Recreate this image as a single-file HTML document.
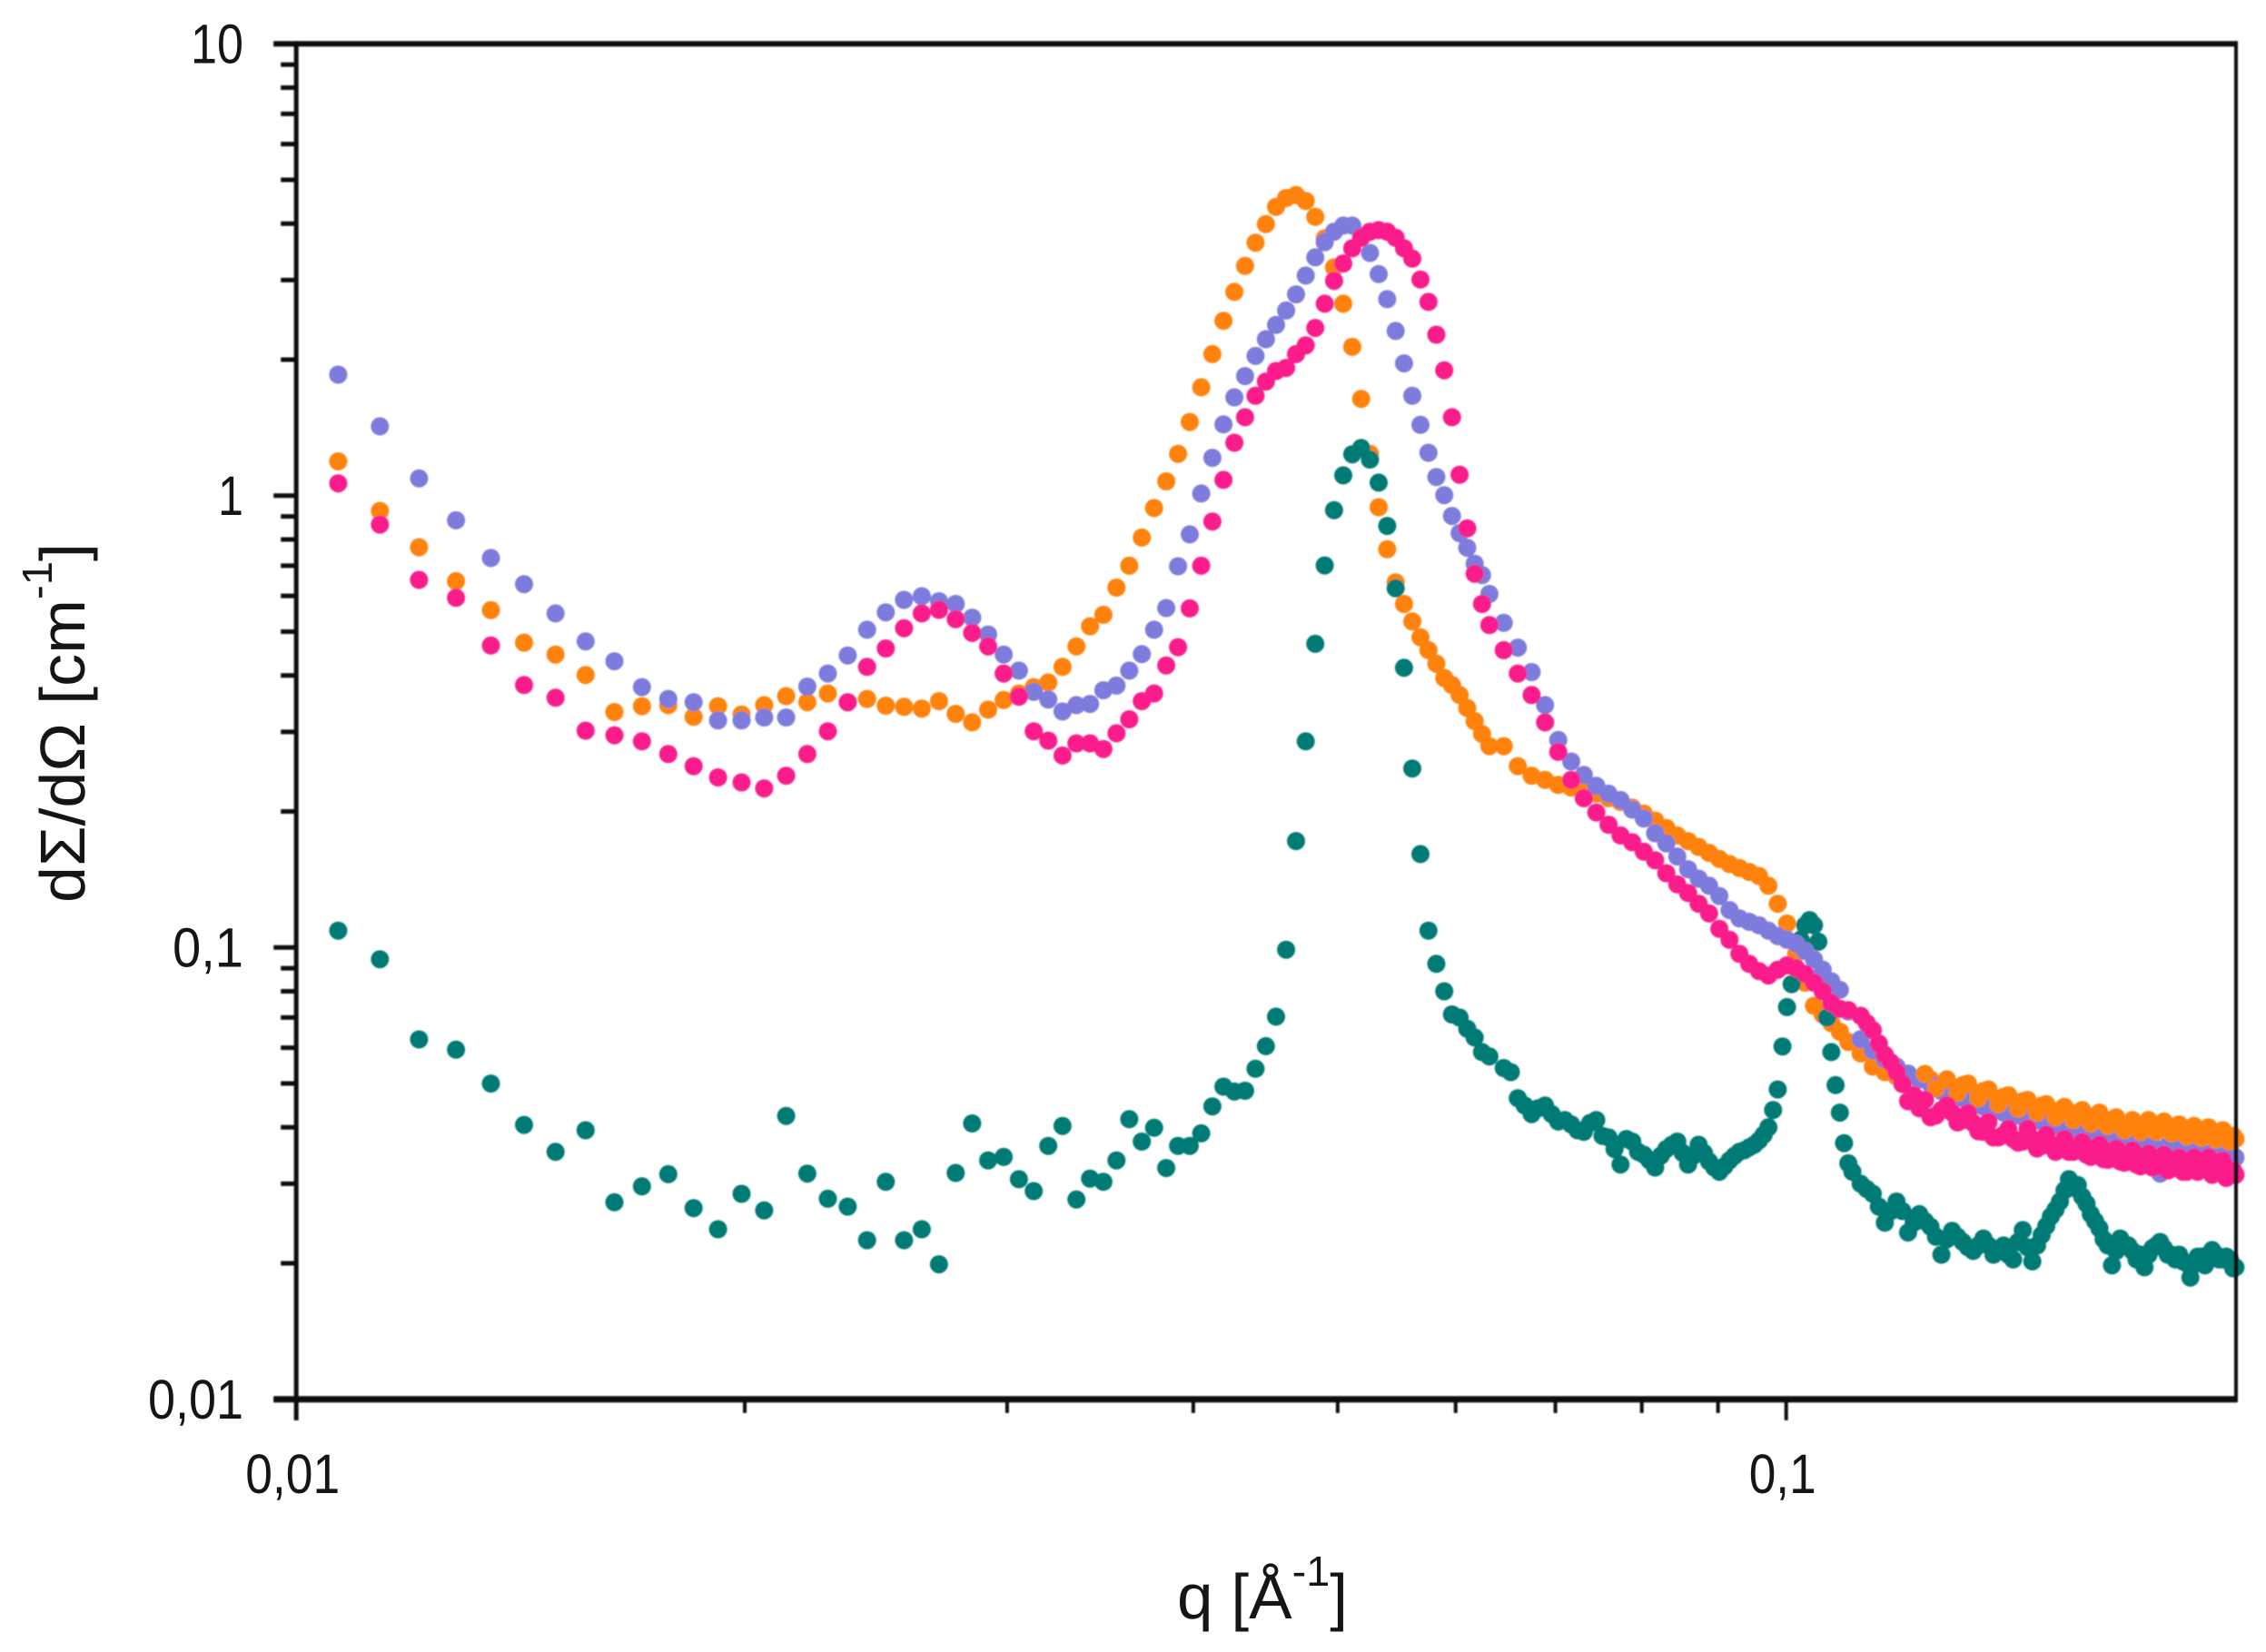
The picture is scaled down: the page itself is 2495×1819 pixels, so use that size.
<!DOCTYPE html>
<html lang="en">
<head>
<meta charset="utf-8">
<title>Scattering curves</title>
<style>
html,body{margin:0;padding:0;background:#fff;width:2495px;height:1819px;overflow:hidden}
svg{display:block}
text{font-family:"Liberation Sans",sans-serif;fill:#151515}
</style>
</head>
<body>
<svg id="chart" xmlns="http://www.w3.org/2000/svg" width="2495" height="1819" viewBox="0 0 2495 1819">
  <defs><filter id="soft" x="-2%" y="-2%" width="104%" height="104%"><feGaussianBlur stdDeviation="0.8"/></filter></defs>
  <rect width="2495" height="1819" fill="#fff"/>
  <g id="marks" filter="url(#soft)"></g>
  <g id="axes" filter="url(#soft)"></g>
  <g id="labels"></g>
  <text x="1296" y="1782" font-size="70" textLength="188" lengthAdjust="spacingAndGlyphs">q [Å<tspan dy="-36" font-size="46">-1</tspan><tspan dy="36">]</tspan></text>
  <text transform="translate(93,994) rotate(-90)" x="0" y="0" font-size="70" textLength="396" lengthAdjust="spacingAndGlyphs">dΣ/dΩ [cm<tspan dy="-36" font-size="46">-1</tspan><tspan dy="36">]</tspan></text>
</svg>
<script>
const qValues = [
0.01067,0.01138,0.01209,0.0128,0.01351,0.01422,0.01493,0.01564,0.01635,0.01706,0.01777,0.01848,0.01919,0.0199,0.02061,0.02132,0.02203,0.02274,0.02345,0.02416,0.02487,0.02558,
0.02629,0.027,0.02771,0.02842,0.02913,0.02984,0.03055,0.03126,0.03197,0.03268,0.03339,0.0341,0.03481,0.03552,0.03623,0.03694,0.03765,0.03836,0.03907,0.03978,0.04049,0.0412,0.04191,0.04262,0.04333,0.04404,0.04475,0.04546,0.04617,0.04688,0.04759,0.0483,0.04901,0.04972,0.05043,0.05114,0.05185,0.05256,0.05327,0.05398,0.05469,0.0554,0.05611,0.05682,0.05753,
0.05824,0.05895,0.05966,0.06037,0.06108,0.06179,0.0625,0.06321,
0.06463,0.06605,0.06747,0.06889,0.07031,0.07173,0.07315,0.07457,0.07599,0.07741,0.07883,0.08025,0.08167,0.08309,0.08451,0.08593,0.08735,0.08877,0.09019,0.09161,0.09303,0.09445,0.09587,0.09729,
0.098,0.09871,0.09942,0.10013,0.10084,0.10155,0.10226,0.10297,0.10368,0.10439,0.1051,0.10581,0.10652,0.10723,0.10794,0.10865,0.10936,0.11007,0.11078,
0.1122,0.11433,0.11646,0.11859,0.12072,0.12285,0.12498,0.12711,0.12924,0.13137,0.1335,0.13563,0.13776,0.13989,0.14202,0.14415,0.14628,0.14841,0.15054,0.15267,0.1548,0.15693,0.15906,0.16119,0.16332,0.16545,0.16758,0.16971,0.17184,0.17397,0.1761,0.17823,0.18036,0.18249,0.18462,0.18675,0.18888,0.19101,0.19314,0.19527,0.1974,0.19953,0.20024
];
const orangeValues = [
1.191,0.925,0.769,0.647,0.558,0.473,0.445,0.401,0.332,0.342,0.344,0.324,0.342,0.328,0.344,0.36,0.349,0.365,0.349,0.355,0.343,0.341,
0.338,0.351,0.329,0.315,0.336,0.353,0.365,0.377,0.386,0.418,0.464,0.514,0.545,0.626,0.7,0.808,0.939,1.076,1.238,1.456,1.738,2.058,2.438,2.825,3.225,3.63,3.99,4.36,4.56,4.63,4.49,4.14,3.71,3.2,2.66,2.135,1.638,1.238,0.943,0.761,0.643,0.576,0.527,0.486,0.455,
0.425,0.395,0.381,0.362,0.339,0.317,0.297,0.279,
0.279,0.252,0.24,0.235,0.229,0.226,0.224,0.219,0.214,0.21,0.204,0.198,0.191,0.184,0.177,0.172,0.167,0.162,0.157,0.153,0.15,0.147,0.144,0.137,
null,0.125,null,0.113,null,0.0968,null,0.0836,null,0.0743,null,0.0711,null,0.068,null,0.0651,null,0.0618,null,
0.0583,0.0545,0.053,0.0518,0.0514,0.0514,0.051,0.0499,0.0492,0.0496,0.0478,0.0481,0.0464,0.0467,0.0454,0.0457,0.0444,0.0447,0.0434,0.0437,0.0428,0.0431,0.0421,0.0424,0.0412,0.0415,0.0403,0.0406,0.04,0.0406,0.04,0.0406,0.0397,0.04,0.0391,0.0397,0.0388,0.0394,0.0385,0.0388,0.038,0.0383,0.0377
];
const tealValues = [
0.109,0.0942,0.0626,0.0594,0.05,0.0405,0.0353,0.0394,0.0273,0.0296,0.0315,0.0265,0.0238,0.0285,0.0262,0.0424,0.0316,0.0278,0.0267,0.0225,0.0303,0.0225,
0.0238,0.0199,0.0317,0.0408,0.0338,0.0344,0.0307,0.0289,0.0364,0.0403,0.0277,0.0308,0.0303,0.0338,0.0417,0.0372,0.0399,0.0325,0.0364,0.0364,0.0388,0.0445,0.0492,0.048,0.0482,0.0539,0.0605,0.0703,0.0989,0.172,0.286,0.47,0.701,0.929,1.109,1.235,1.275,1.202,1.069,0.857,0.624,0.416,0.249,0.161,0.109,
0.092,0.08,0.0711,0.07,0.0661,0.0632,0.0587,0.0574,
0.0541,0.0464,0.0428,0.0447,0.0412,0.0406,0.0391,0.0415,0.038,0.0331,0.0372,0.0348,0.0326,0.0358,0.0372,0.0331,0.0366,0.0336,0.0319,0.0338,0.0353,0.0361,0.0374,0.04,
0.0437,0.0485,0.0604,0.0738,0.083,null,0.104,0.112,0.115,0.112,0.103,0.0836,0.07,0.0587,0.0496,0.0431,0.0369,0.0333,0.0319,
0.03,0.0285,0.0246,0.0274,0.0234,0.0257,0.0241,0.0209,0.0236,0.0223,0.0213,0.0227,0.0209,0.0219,0.0204,0.0237,0.0202,0.0231,0.0254,0.0274,0.0307,0.0298,0.0271,0.0248,0.0226,0.0198,0.0227,0.0219,0.0204,0.0196,0.0216,0.0223,0.0209,0.0204,0.0202,0.0186,0.0207,0.0198,0.0214,0.0204,0.0207,0.0195,0.0196
];
const purpleValues = [
1.853,1.424,1.092,0.882,0.728,0.637,0.549,0.476,0.43,0.377,0.355,0.349,0.318,0.318,0.323,0.323,0.378,0.404,0.443,0.505,0.552,0.588,
0.599,0.584,0.576,0.537,0.493,0.445,0.41,0.368,0.354,0.333,0.344,0.346,0.371,0.38,0.41,0.446,0.505,0.564,0.698,0.821,1.011,1.213,1.438,1.651,1.84,2.039,2.22,2.388,2.57,2.79,3.07,3.368,3.639,3.84,3.96,3.96,3.765,3.446,3.094,2.723,2.315,1.963,1.664,1.435,1.245,
1.1,1.003,0.902,0.826,0.767,0.707,0.667,0.606,
0.523,0.461,0.407,0.344,0.288,0.258,0.241,0.228,0.219,0.212,0.202,0.193,0.179,0.17,0.159,0.149,0.142,0.137,0.13,0.121,0.116,0.114,0.112,0.109,
null,0.106,null,0.104,null,0.102,null,0.0983,null,0.0941,null,0.0893,null,0.0842,null,0.0806,null,0.0722,null,
0.0627,0.0592,0.0566,0.0545,0.0526,0.051,0.0499,0.0481,0.0474,0.0464,0.0454,0.0444,0.0437,0.0431,0.0424,0.0421,0.0415,0.0412,0.0406,0.04,0.0397,0.0394,0.0391,0.0385,0.0383,0.038,0.0388,0.0374,0.0372,0.0366,0.0364,0.0316,0.0364,0.0364,0.0356,0.0358,0.0353,0.0351,0.0348,0.0348,0.0346,0.0346,0.0343
];
const pinkValues = [
1.065,0.863,0.651,0.594,0.466,0.381,0.357,0.302,0.295,0.286,0.268,0.252,0.238,0.232,0.225,0.24,0.268,0.301,0.349,0.418,0.459,0.509,
0.549,0.559,0.533,0.497,0.464,0.404,0.359,0.301,0.287,0.266,0.283,0.283,0.275,0.298,0.32,0.351,0.365,0.421,0.462,0.563,0.7,0.877,1.084,1.31,1.492,1.664,1.789,1.888,1.918,2.058,2.152,2.351,2.66,2.99,3.266,3.528,3.723,3.84,3.87,3.84,3.723,3.528,3.346,3.009,2.685,
2.272,1.895,1.492,1.113,0.847,0.672,0.576,0.517,
0.455,0.404,0.362,0.315,0.271,0.235,0.214,0.199,0.187,0.177,0.171,0.163,0.156,0.146,0.138,0.132,0.125,0.119,0.11,0.104,0.0968,0.092,0.0887,0.0867,
null,0.0893,null,0.0913,null,0.09,null,0.0874,null,0.0836,null,0.08,null,0.0754,null,0.0732,null,0.0727,null,
0.0706,0.0656,0.0579,0.053,0.0457,0.0441,0.0421,0.0437,0.0431,0.0415,0.0409,0.0391,0.038,0.0385,0.0377,0.0372,0.0377,0.0364,0.0366,0.0358,0.0353,0.0358,0.0348,0.0351,0.034,0.0346,0.0336,0.034,0.0331,0.0336,0.0326,0.0336,0.0321,0.0331,0.0319,0.0328,0.0319,0.0326,0.0314,0.0321,0.0309,0.0321,0.0314
];
/* Extra readings inside the dense noisy bands */
const tealBandQ = [0.06534,0.06676,0.06818,0.0696,0.07102,0.07244,0.07386,0.07528,0.0767,0.07812,0.07954,0.08096,0.08238,0.0838,0.08522,0.08664,0.08806,0.08948,0.0909,0.09232,0.09374,0.09516,0.09658];
const tealBandValues = [0.053,0.0447,0.0441,0.0428,0.0415,0.0394,0.0409,0.0383,0.0358,0.0377,0.0353,0.0338,0.0346,0.0366,0.0351,0.0346,0.0351,0.0326,0.0328,0.0346,0.0356,0.0366,0.0385];
const tailQ = [0.11327,0.1154,0.11753,0.11966,0.12179,0.12392,0.12605,0.12818,0.13031,0.13244,0.13457,0.1367,0.13883,0.14096,0.14309,0.14522,0.14735,0.14948,0.15161,0.15374,0.15587,0.158,0.16013,0.16226,0.16439,0.16652,0.16865,0.17078,0.17291,0.17504,0.17717,0.1793,0.18143,0.18356,0.18569,0.18782,0.18995,0.19208,0.19421,0.19634,0.19847];
const tealTailValues = [0.0292,0.0267,0.0261,0.0261,0.0246,0.0248,0.0229,0.0226,0.0229,0.0217,0.0219,0.0219,0.0213,0.0209,0.0223,0.0217,0.0219,0.0242,0.0263,0.029,0.0294,0.0281,0.0257,0.0239,0.0219,0.0213,0.0219,0.0213,0.0209,0.0209,0.0219,0.0216,0.0209,0.0209,0.02,0.0199,0.0207,0.0209,0.0209,0.0204,0.0204];
const orangeTailValues = [null,null,null,null,null,0.0525,0.0488,0.0511,0.0477,0.05,0.0464,0.0485,0.045,0.0471,0.044,0.046,0.0431,0.045,0.0421,0.0444,0.0415,0.0437,0.0408,0.0431,0.0403,0.0421,0.0394,0.0415,0.0391,0.0415,0.0391,0.0412,0.0388,0.0406,0.0382,0.0403,0.0379,0.04,0.0376,0.0394,0.0372];
const pinkTailValues = [0.068,0.0613,0.0557,0.0499,0.0471,0.046,0.0425,0.0447,0.041,0.043,0.0392,0.0411,0.038,0.0397,0.037,0.0397,0.0359,0.0385,0.0353,0.0377,0.0353,0.0371,0.0344,0.0366,0.0339,0.0359,0.0334,0.0356,0.0328,0.035,0.0328,0.0348,0.0324,0.0343,0.0319,0.0343,0.0324,0.0343,0.0321,0.0338,0.0317];

const yMajorTicks = [10, 1, 0.1, 0.01];
const yTickLabels = ['10', '1', '0,1', '0,01'];
const yMinorTicks = [9,8,7,6,5,4,3,2,0.9,0.8,0.7,0.6,0.5,0.4,0.3,0.2,0.09,0.08,0.07,0.06,0.05,0.04,0.03,0.02];
const xMajorTicks = [0.01, 0.1];
const xTickLabels = ['0,01', '0,1'];
const xMinorTicks = [0.02,0.03,0.04,0.05,0.06,0.07,0.08,0.09];

const NS = 'http://www.w3.org/2000/svg';
const xPos = q => 326.2 + (Math.log10(q) + 2) * 1640.5;
const yPos = v => 545.8 - Math.log10(v) * 497.5;
const marks = document.getElementById('marks');
const axes = document.getElementById('axes');
const labels = document.getElementById('labels');

function drawSeries(qs, values, colour, pointName) {
  values.forEach((v, i) => {
    if (v === null) return;
    const c = document.createElementNS(NS, 'circle');
    c.setAttribute('cx', xPos(qs[i]).toFixed(1));
    c.setAttribute('cy', yPos(v).toFixed(1));
    c.setAttribute('r', '10');
    c.setAttribute('fill', colour);
    
    
    marks.appendChild(c);
  });
}
drawSeries(qValues, orangeValues, '#ff8208', 'orange-series-point');
drawSeries(qValues, tealValues, '#007a74', 'teal-series-point');
drawSeries(tealBandQ, tealBandValues, '#007a74', 'teal-series-point');
drawSeries(tailQ, tealTailValues, '#007a74', 'teal-series-point');
drawSeries(qValues, purpleValues, '#7d7bdc', 'purple-series-point');
drawSeries(tailQ, orangeTailValues, '#ff8208', 'orange-series-point');
drawSeries(qValues, pinkValues, '#fb1a8c', 'pink-series-point');
drawSeries(tailQ, pinkTailValues, '#fb1a8c', 'pink-series-point');

function line(x1, y1, x2, y2, w, name) {
  const l = document.createElementNS(NS, 'line');
  l.setAttribute('x1', x1);
  l.setAttribute('y1', y1);
  l.setAttribute('x2', x2);
  l.setAttribute('y2', y2);
  l.setAttribute('stroke', '#0a0a0a');
  l.setAttribute('stroke-width', w);
  
  
  axes.appendChild(l);
}
const top0 = yPos(10), bottom0 = yPos(0.01), left0 = xPos(0.01), right0 = 2462;
line(left0 - 25, top0, right0 + 1, top0, 6, 'plot-frame-top');
line(left0 - 25, bottom0, right0 + 1, bottom0, 7, 'x-axis-line');
line(left0, top0 - 3, left0, bottom0 + 23, 5, 'y-axis-line');
line(right0, top0 - 3, right0, bottom0 + 3, 4, 'plot-frame-right');
yMajorTicks.forEach(v => line(left0 - 25, yPos(v), left0, yPos(v), 5, 'y-major-tick'));
yMinorTicks.forEach(v => line(left0 - 17, yPos(v), left0, yPos(v), 5, 'y-minor-tick'));
xMajorTicks.forEach(q => line(xPos(q), bottom0, xPos(q), bottom0 + 23, 4, 'x-major-tick'));
xMinorTicks.forEach(q => line(xPos(q), bottom0, xPos(q), bottom0 + 15, 4, 'x-minor-tick'));

function tickText(str, x, y, anchor, width, name) {
  const t = document.createElementNS(NS, 'text');
  t.setAttribute('x', x);
  t.setAttribute('y', y);
  t.setAttribute('font-size', '61');
  t.setAttribute('text-anchor', anchor);
  t.setAttribute('textLength', width);
  t.setAttribute('lengthAdjust', 'spacingAndGlyphs');
  
  
  t.textContent = str;
  labels.appendChild(t);
}
const yLabelWidths = [58, 28, 78, 105];
yTickLabels.forEach((s, i) => tickText(s, 268, yPos(yMajorTicks[i]) + 21, 'end', yLabelWidths[i], 'y-tick-label'));
const xLabelWidths = [104, 74];
const xLabelOffset = -4;
xTickLabels.forEach((s, i) => tickText(s, xPos(xMajorTicks[i]) + xLabelOffset, 1644, 'middle', xLabelWidths[i], 'x-tick-label'));
</script>
</body>
</html>
